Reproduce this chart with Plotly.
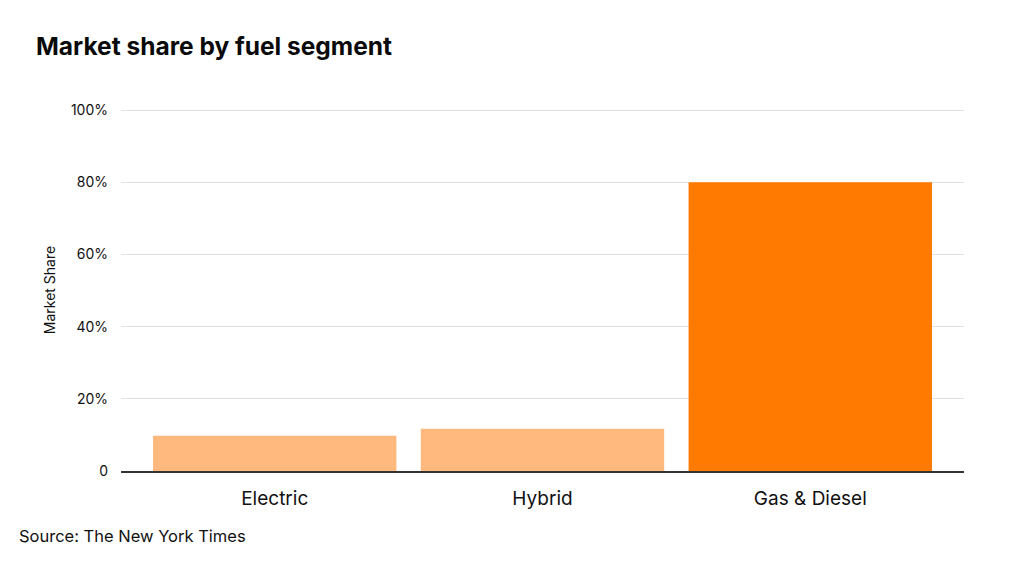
import plotly.graph_objects as go

categories = ["Electric", "Hybrid", "Gas & Diesel"]
shares = [9.8, 11.7, 80.0]
bar_colors = ["#FFB97F", "#FFB97F", "#FF7A00"]
y_ticks = [0, 20, 40, 60, 80, 100]
y_tick_labels = ["0", "20%", "40%", "60%", "80%", "100%"]

fig = go.Figure(
    go.Bar(
        x=categories,
        y=shares,
        marker=dict(color=bar_colors, line=dict(width=0)),
        hoverinfo="x+y",
    )
)

font_family = "Inter, Roboto, Noto Sans, sans-serif"
OFF = 8  # page body offset in the browser
W, H = 1024, 565
L, R, T, B = 121 - OFF, 60 + OFF, 109 - OFF, 94 + OFF
pw = W - L - R
ph = H - T - B

fig.update_layout(
    width=W,
    height=H,
    margin=dict(l=L, r=R, t=T, b=B),
    paper_bgcolor="white",
    plot_bgcolor="white",
    bargap=0.091,
    showlegend=False,
    font=dict(family=font_family, color="#111111"),
    title=dict(
        text="<b>Market share by fuel segment</b>",
        x=(36 - OFF) / W,
        xanchor="left",
        y=1 - (46 - OFF) / H,
        yanchor="middle",
        font=dict(size=24.5, color="#0A0A0A", family=font_family),
    ),
    xaxis=dict(
        range=[-0.574, 2.574],
        showgrid=False,
        showline=True,
        linecolor="#333333",
        linewidth=1.5,
        ticks="",
        tickfont=dict(size=19, color="#111111"),
        ticklabelstandoff=9,
    ),
    yaxis=dict(
        range=[0, 100.3],
        tickvals=y_ticks,
        ticktext=y_tick_labels,
        showgrid=True,
        gridcolor="#E2E2E2",
        gridwidth=1,
        zeroline=False,
        showline=False,
        ticks="",
        tickfont=dict(size=14, color="#111111"),
        ticklabelstandoff=12,
        title=dict(text="Market Share", font=dict(size=14, color="#111111"), standoff=11),
    ),
    annotations=[
        dict(
            text="Source: The New York Times",
            x=(17 - OFF - L) / pw,
            y=(H - B - (536 - OFF)) / ph,
            xref="paper",
            yref="paper",
            xanchor="left",
            yanchor="middle",
            showarrow=False,
            font=dict(size=16.5, color="#111111", family=font_family),
        )
    ],
)

fig.write_html("out.html")
